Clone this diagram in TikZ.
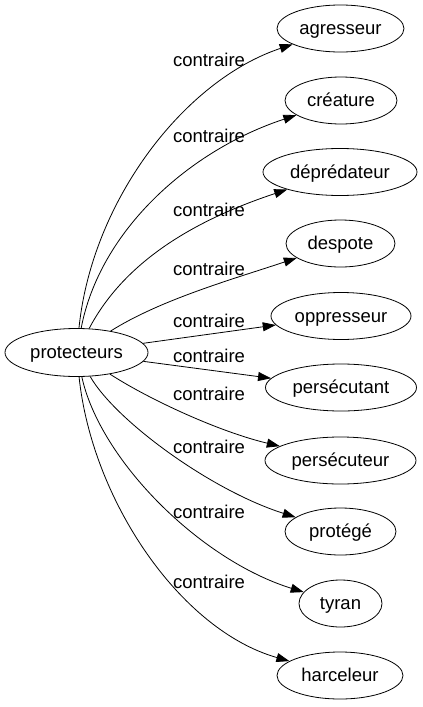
\documentclass[tikz,border=0pt]{standalone}
\usepackage{fontspec}
\setmainfont{Liberation Sans}
\usetikzlibrary{arrows.meta,shapes.geometric}
\begin{document}
\begin{tikzpicture}[x=1pt,y=-1pt,
  every node/.style={font=\fontsize{18.5}{20}\selectfont, text height=13pt, text depth=1pt, inner sep=0pt, text=black},
  term/.style={draw, ellipse, line width=0.8pt, minimum height=47pt},
  rel/.style={-{Triangle[length=13pt,width=9pt]}, line width=0.8pt},
  lab/.style={}]
\useasboundingbox (0,0) rectangle (423,707);

\node[term, minimum width=143pt, minimum height=48pt] (p) at (76.5,352.5) {protecteurs};

\node[term, minimum width=127pt] (n1) at (340.5,28.5) {agresseur};
\node[term, minimum width=112pt] (n2) at (341,100.5) {créature};
\node[term, minimum width=154pt] (n3) at (340,172) {déprédateur};
\node[term, minimum width=109pt] (n4) at (340.5,243.5) {despote};
\node[term, minimum width=140pt] (n5) at (341,316) {oppresseur};
\node[term, minimum width=151pt] (n6) at (341,387.5) {persécutant};
\node[term, minimum width=151pt] (n7) at (340.5,460.5) {persécuteur};
\node[term, minimum width=111pt] (n8) at (340.5,531.5) {protégé};
\node[term, minimum width=83pt] (n9) at (340.5,603.5) {tyran};
\node[term, minimum width=126pt] (n10) at (340,675.5) {harceleur};

\node[lab] (l1) at (209,60) {contraire};
\node[lab] (l2) at (209,136.7) {contraire};
\node[lab] (l3) at (209,210) {contraire};
\node[lab] (l4) at (209,269) {contraire};
\node[lab] (l5) at (209,321.7) {contraire};
\node[lab] (l6) at (209,356.7) {contraire};
\node[lab] (l7) at (209,394) {contraire};
\node[lab] (l8) at (209,447.3) {contraire};
\node[lab] (l9) at (209,512.7) {contraire};
\node[lab] (l10) at (209,582.7) {contraire};

\draw[rel] (p) .. controls (92,200) and (185,80) .. (n1);
\draw[rel] (p) .. controls (100,230) and (190,150) .. (n2);
\draw[rel] (p) .. controls (120,270) and (180,225) .. (n3);
\draw[rel] (p) .. controls (160,300) and (230,280) .. (n4);
\draw[rel] (p) -- (n5);
\draw[rel] (p) -- (n6);
\draw[rel] (p) .. controls (150,400) and (220,432) .. (n7);
\draw[rel] (p) .. controls (115,420) and (210,490) .. (n8);
\draw[rel] (p) .. controls (100,460) and (200,560) .. (n9);
\draw[rel] (p) .. controls (92,500) and (180,630) .. (n10);
\end{tikzpicture}
\end{document}
